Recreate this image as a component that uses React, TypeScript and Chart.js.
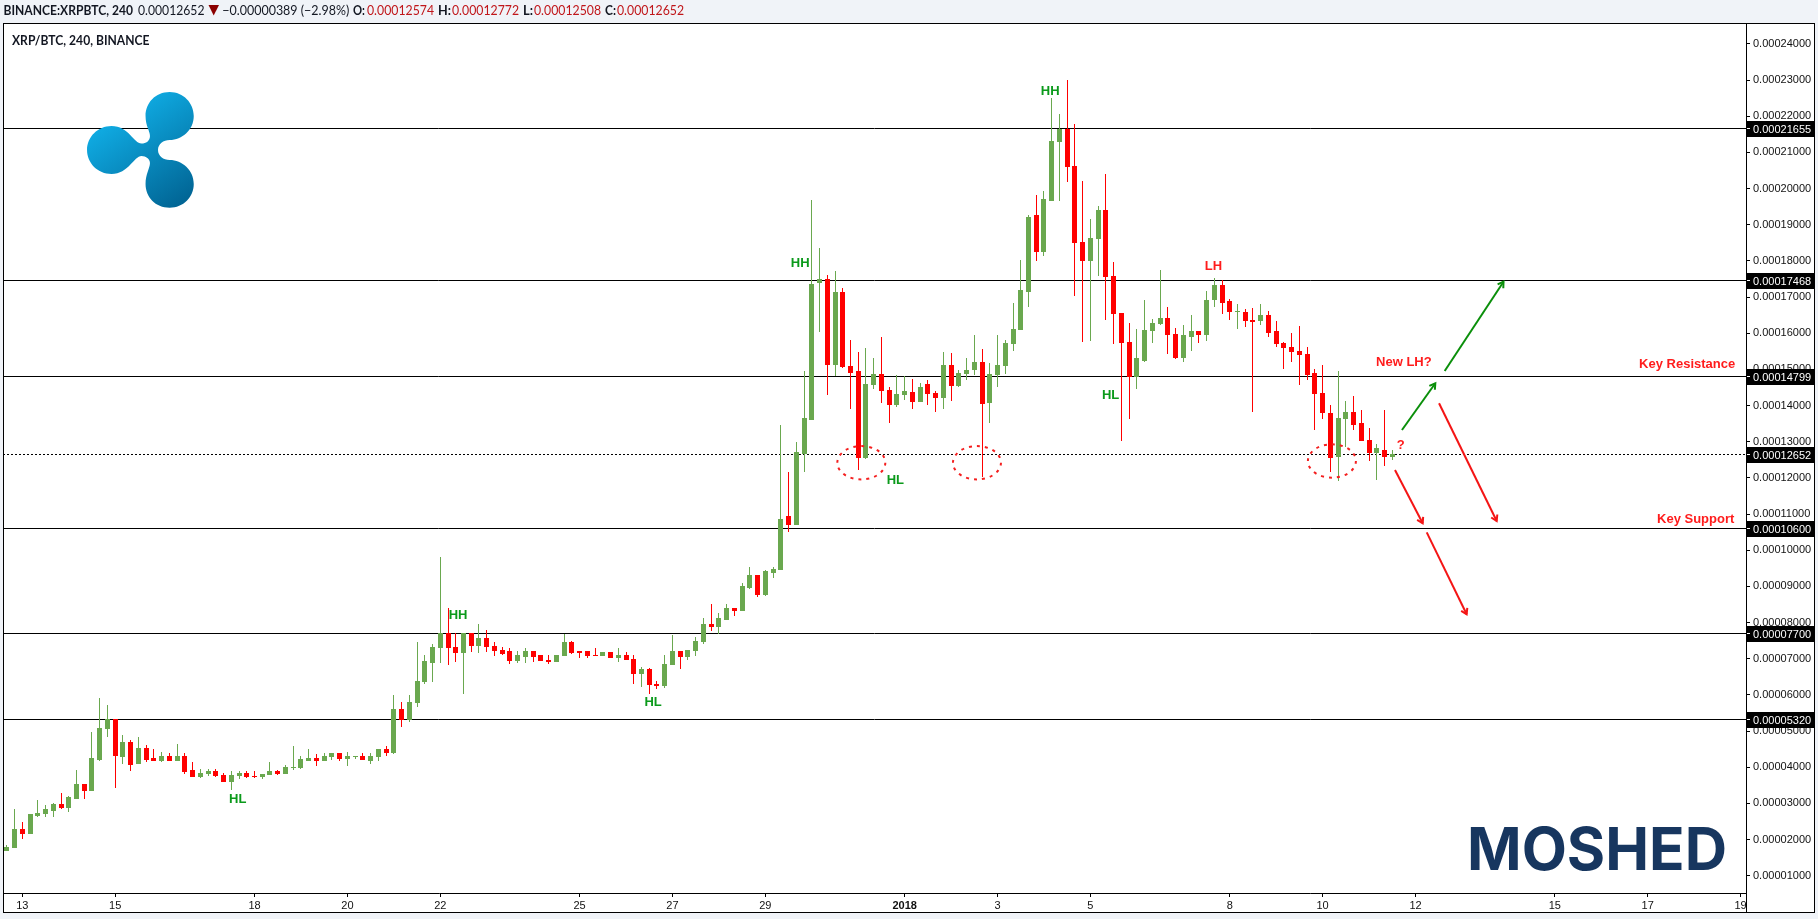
import React, { useEffect, useRef } from "react";
import { Chart, registerables } from "chart.js";

Chart.register(...registerables);

// Prices are read in units of 0.00001 BTC.
const UNIT = 1e-5;

const opens = [
  1.69,1.78,2.29,2.16,2.65,2.72,2.80,2.98,2.88,3.13,3.51,3.35,4.20,5.06,5.32,4.29,4.67,4.10,4.53,4.23,
  4.17,4.31,4.17,4.31,3.90,3.73,3.80,3.87,3.78,3.59,3.76,3.84,3.75,3.73,3.78,3.87,3.81,3.99,3.98,4.17,
  4.25,4.17,4.28,4.39,4.23,4.28,4.31,4.17,4.28,4.48,4.39,5.61,5.30,5.78,6.36,6.88,7.30,7.70,7.32,7.16,
  7.70,7.35,7.57,7.35,7.24,7.19,6.94,7.05,7.19,7.08,6.96,6.91,7.08,7.44,7.21,7.19,7.10,7.08,7.16,7.02,
  7.10,6.99,6.58,6.69,6.30,6.25,6.83,7.21,7.05,7.21,7.46,7.96,7.88,8.07,8.40,8.32,8.96,9.29,8.76,9.37,
  9.45,10.92,10.70,12.66,13.60,17.39,17.49,15.12,17.14,15.09,14.93,12.55,14.57,14.87,14.43,14.01,14.29,14.37,14.10,14.57,
  14.34,14.20,15.12,14.54,14.87,14.98,15.20,14.07,14.84,15.09,15.70,16.09,17.14,19.26,18.26,19.67,21.28,21.64,20.62,18.51,
  17.99,18.60,19.40,17.57,16.55,15.75,14.80,15.22,16.05,16.27,16.41,15.97,15.31,15.91,16.05,15.94,16.91,17.32,16.88,16.59,
  16.58,16.36,16.33,16.49,16.05,15.72,15.61,15.50,15.42,14.90,14.34,13.79,12.57,13.63,13.82,13.51,13.04,12.69,12.77,12.574,
];
const highs = [
  1.84,2.84,2.46,2.68,3.09,2.95,3.00,3.26,3.20,3.90,3.51,4.97,5.91,5.72,5.32,4.89,4.75,4.81,4.59,4.48,
  4.42,4.37,4.64,4.38,4.14,3.95,3.95,3.95,3.84,3.87,3.87,3.87,3.87,3.81,4.12,3.92,4.06,4.56,4.31,4.50,
  4.34,4.37,4.39,4.39,4.42,4.31,4.37,4.37,4.50,4.56,5.97,5.80,5.97,7.46,7.10,7.38,9.79,8.39,7.70,7.70,
  7.70,7.96,7.79,7.44,7.32,7.27,7.19,7.27,7.21,7.10,7.08,7.10,7.68,7.49,7.21,7.19,7.27,7.16,7.16,7.27,
  7.16,7.08,6.77,6.72,6.36,7.10,7.63,7.21,7.24,7.60,8.10,8.51,8.26,8.49,8.40,9.09,9.51,9.29,9.43,9.51,
  13.44,12.14,12.99,14.95,19.68,18.35,17.61,17.72,17.25,15.81,15.48,15.59,15.31,15.89,14.51,14.84,14.80,14.73,14.62,14.70,
  14.40,15.48,15.45,14.98,15.31,15.95,15.56,15.17,15.95,15.81,16.81,18.02,19.27,19.81,19.92,22.50,22.05,22.99,21.78,20.20,
  19.15,19.51,20.39,17.96,16.55,16.27,16.11,16.91,16.38,17.74,16.72,16.13,16.22,16.49,16.05,17.16,17.52,17.46,16.94,16.80,
  16.66,16.69,16.80,16.60,16.33,15.75,16.00,16.19,15.61,15.01,15.12,14.01,14.95,14.12,14.26,13.87,13.38,12.93,13.87,12.772,
];
const lows = [
  1.69,1.78,2.02,2.16,2.62,2.62,2.62,2.84,2.76,3.13,3.12,3.35,4.17,4.84,3.42,4.09,3.90,4.10,4.14,4.17,
  4.14,4.17,4.17,3.81,3.74,3.70,3.76,3.73,3.59,3.37,3.67,3.70,3.70,3.67,3.78,3.78,3.81,3.92,3.95,4.17,
  4.03,4.17,4.20,4.17,4.03,4.23,4.20,4.09,4.17,4.31,4.37,5.11,5.25,5.66,6.30,6.36,6.88,6.83,6.91,6.02,
  7.19,7.16,7.19,7.08,7.10,6.85,6.88,6.88,6.91,6.94,6.85,6.91,7.08,7.13,7.02,7.02,7.08,7.08,7.02,6.91,
  6.96,6.30,6.22,6.02,6.16,6.19,6.83,6.72,6.96,7.08,7.41,7.77,7.68,8.07,8.18,8.32,8.93,8.71,8.73,9.23,
  9.45,10.50,10.70,12.16,13.60,16.03,14.29,14.82,15.04,13.90,12.22,12.52,14.45,14.07,13.52,13.96,14.15,13.90,14.10,14.01,
  13.82,13.90,14.12,14.51,14.70,14.84,12.02,13.52,14.51,14.87,15.51,16.09,16.72,18.01,18.13,19.67,19.65,20.17,17.02,15.75,
  15.78,17.57,16.38,15.69,13.01,13.62,14.45,15.20,15.72,16.22,15.42,15.28,15.20,15.50,15.72,15.80,16.72,16.52,16.38,16.11,
  16.16,13.81,16.22,15.91,15.61,15.00,15.20,14.56,14.70,13.32,13.63,12.16,11.91,12.85,13.32,13.02,12.46,11.94,12.32,12.508,
];
const closes = [
  1.79,2.29,2.16,2.68,2.73,2.82,2.98,2.87,3.15,3.51,3.35,4.25,5.06,5.31,4.32,4.67,4.06,4.53,4.20,4.17,
  4.31,4.17,4.31,3.87,3.74,3.84,3.87,3.76,3.59,3.78,3.84,3.73,3.73,3.81,3.87,3.81,4.00,4.00,4.20,4.25,
  4.17,4.31,4.39,4.23,4.31,4.31,4.20,4.31,4.48,4.39,5.61,5.30,5.80,6.38,6.91,7.32,7.71,7.30,7.16,7.70,
  7.35,7.57,7.32,7.21,7.13,6.94,7.08,7.19,7.05,6.94,6.91,7.10,7.44,7.16,7.16,7.08,7.08,7.16,7.02,7.10,
  6.96,6.58,6.69,6.27,6.25,6.85,7.21,7.05,7.24,7.49,7.96,7.88,8.10,8.40,8.32,9.01,9.29,8.76,9.40,9.48,
  10.84,10.70,12.69,13.63,17.36,17.49,15.12,17.14,15.06,14.90,12.55,14.59,14.87,14.40,14.01,14.32,14.40,14.10,14.51,14.32,
  14.20,15.12,14.54,14.90,14.98,15.20,14.04,14.87,15.12,15.73,16.11,17.17,19.21,18.26,19.70,21.31,21.64,20.59,18.49,17.99,
  18.62,19.40,17.55,16.52,15.72,14.80,15.31,16.08,16.27,16.41,15.94,15.31,15.94,16.05,15.94,16.91,17.32,16.85,16.58,16.60,
  16.33,16.30,16.49,16.02,15.69,15.58,15.47,15.39,14.86,14.32,13.79,12.55,13.65,13.82,13.46,13.02,12.69,12.80,12.574,12.652,
];

const xTickBars = [2, 14, 32, 44, 56, 74, 86, 98, 116, 128, 140, 158, 170, 182, 200, 212, 224];
const xTickLabels = ["13", "15", "18", "20", "22", "25", "27", "29", "2018", "3", "5", "8", "10", "12", "15", "17", "19"];
const yTickValues = [24, 23, 22, 21, 20, 19, 18, 17, 16, 15, 14, 13, 12, 11, 10, 9, 8, 7, 6, 5, 4, 3, 2, 1];
const solidLevels = [21.655, 17.468, 14.799, 10.6, 7.7, 5.32];
const lastPrice = 12.652;
const priceLabels = [21.655, 17.468, 14.799, 12.652, 10.6, 7.7, 5.32];

const X_MIN = -0.495;
const X_MAX = 224.7;
const Y_MIN = 0.522;
const Y_MAX = 24.58;

const greenArrows = [
  [[180.25, 13.325], [184.56, 14.617]],
  [[185.77, 14.957], [193.37, 17.426]],
];
const redArrows = [
  [[185.04, 14.064], [192.49, 10.809]],
  [[179.35, 12.219], [182.93, 10.745]],
  [[183.45, 10.496], [188.61, 8.229]],
];
const circleCentres = [[110.4, 12.42], [125.34, 12.42], [171.2, 12.468]];

const GREEN_TEXT = "#0b9a1b";
const RED_TEXT = "#ff1c1c";
const chartTexts: [string, number, number, string][] = [
  ["HH", 58.3, 8.19, GREEN_TEXT],
  ["HL", 29.83, 3.12, GREEN_TEXT],
  ["HL", 83.5, 5.78, GREEN_TEXT],
  ["HH", 102.5, 17.94, GREEN_TEXT],
  ["HL", 114.8, 11.94, GREEN_TEXT],
  ["HH", 134.8, 22.69, GREEN_TEXT],
  ["HL", 142.6, 14.29, GREEN_TEXT],
  ["LH", 155.9, 17.86, RED_TEXT],
  ["New LH?", 180.5, 15.2, RED_TEXT],
  ["?", 180.1, 12.91, RED_TEXT],
  ["Key Resistance", 217.1, 15.13, RED_TEXT],
  ["Key Support", 218.2, 10.86, RED_TEXT],
];

const CANDLE_UP = "#6aa84f";
const CANDLE_DOWN = "#ff0000";
const barIndex = closes.map((_, i) => i);
const candleColours = barIndex.map((i) => (closes[i] >= opens[i] ? CANDLE_UP : CANDLE_DOWN));

const flat = "Liberation Sans, Arial, sans-serif";

function sharpenBars(chart: any) {
  chart.data.datasets.forEach((ds: any, di: number) => {
    const meta = chart.getDatasetMeta(di);
    if (ds.type === "bar") {
      meta.data.forEach((el: any) => {
        const top = Math.floor(Math.min(el.y, el.base));
        const bot = Math.max(top + 1, Math.round(Math.max(el.y, el.base)));
        el.x = Math.floor(el.x) + 0.5;
        el.y = top;
        el.base = bot;
      });
    } else if (ds.crisp) {
      meta.data.forEach((el: any) => {
        el.y = Math.floor(el.y) + 0.5;
      });
    }
  });
}

const framePlugin = {
  id: "frame",
  beforeDraw(chart: any) {
    const c = chart.ctx;
    c.save();
    c.fillStyle = "#f0f3f8";
    c.fillRect(0, 0, chart.width, chart.height);
    c.fillStyle = "#ffffff";
    c.fillRect(3.5, 23.5, 1811, 889);
    c.restore();
  },
  beforeDatasetsDraw(chart: any) {
    sharpenBars(chart);
  },
  afterDatasetsDraw(chart: any) {
    const c = chart.ctx;
    const sx = chart.scales.x;
    const sy = chart.scales.y;
    const px = (k: number) => sx.getPixelForValue(k);
    const py = (v: number) => sy.getPixelForValue(v * UNIT);
    c.save();

    // arrow heads
    const heads = (list: number[][][], col: string) => {
      list.forEach(([a, b]) => {
        const x1 = px(a[0]), y1 = py(a[1]), x2 = px(b[0]), y2 = py(b[1]);
        const ang = Math.atan2(y2 - y1, x2 - x1);
        c.strokeStyle = col;
        c.lineWidth = 2;
        c.beginPath();
        c.moveTo(x2 - 6.5 * Math.cos(ang - 0.55), y2 - 6.5 * Math.sin(ang - 0.55));
        c.lineTo(x2, y2);
        c.lineTo(x2 - 6.5 * Math.cos(ang + 0.55), y2 - 6.5 * Math.sin(ang + 0.55));
        c.stroke();
      });
    };
    heads(greenArrows, "#0a8f0a");
    heads(redArrows, "#f41515");

    // dashed circles
    c.strokeStyle = "#f41f1f";
    c.lineWidth = 2;
    c.setLineDash([3, 5]);
    circleCentres.forEach(([k, v]) => {
      c.beginPath();
      c.ellipse(px(k), py(v), 24, 16.7, 0, 0, Math.PI * 2);
      c.stroke();
    });
    c.setLineDash([]);

    // annotations
    c.textAlign = "center";
    c.textBaseline = "middle";
    c.font = `bold 13px ${flat}`;
    chartTexts.forEach(([t, k, v, col]) => {
      c.fillStyle = col;
      c.fillText(t, px(k), py(v));
    });

    // Ripple logo
    c.save();
    c.transform(1.339, 0, 0, 1, 0, 0);
    const g = c.createLinearGradient(70, 125, 145, 205);
    g.addColorStop(0, "#10aee6");
    g.addColorStop(1, "#00608f");
    c.fillStyle = g;
    c.beginPath();
    c.moveTo(126.7, 92);
    c.bezierCurveTo(137, 92, 144.7, 103, 144.7, 116);
    c.bezierCurveTo(144.7, 130, 136, 140, 126.7, 140);
    c.bezierCurveTo(122, 140, 118, 144, 118, 150);
    c.bezierCurveTo(118, 156, 122, 160, 126.7, 160);
    c.bezierCurveTo(136, 160, 144.7, 170, 144.7, 184);
    c.bezierCurveTo(144.7, 197, 137, 207.7, 126.7, 207.7);
    c.bezierCurveTo(116, 207.7, 108.7, 197, 108.7, 184);
    c.bezierCurveTo(108.7, 174, 112, 168, 112, 163);
    c.bezierCurveTo(112, 159, 109, 156, 105.7, 156);
    c.bezierCurveTo(100, 156, 96, 174, 83.3, 174);
    c.bezierCurveTo(73, 174, 65, 163, 65, 150);
    c.bezierCurveTo(65, 137, 73, 126, 83.3, 126);
    c.bezierCurveTo(96, 126, 100, 143.5, 105.7, 143.5);
    c.bezierCurveTo(109, 143.5, 112, 141, 112, 136);
    c.bezierCurveTo(112, 131, 108.7, 126, 108.7, 116);
    c.bezierCurveTo(108.7, 103, 116, 92, 126.7, 92);
    c.closePath();
    c.fill();
    c.restore();

    // Watermark
    c.fillStyle = "#17365f";
    c.textAlign = "left";
    c.textBaseline = "alphabetic";
    c.font = "700 59px Inter, sans-serif";
    c.fillText("MOSHED", 1467, 870, 260);
    c.restore();
  },
  afterDraw(chart: any) {
    const c = chart.ctx;
    const sy = chart.scales.y;
    c.save();

    // clip the last date label at the price axis
    c.fillStyle = "#ffffff";
    c.fillRect(1746, 894, 68, 18);

    // price tags
    priceLabels.forEach((v) => {
      const y = Math.floor(sy.getPixelForValue(v * UNIT)) + 0.5;
      c.fillStyle = "#000000";
      c.fillRect(1747, y - 7.5, 67, 16);
      c.strokeStyle = "#ffffff";
      c.lineWidth = 1;
      c.beginPath();
      c.moveTo(1747, y);
      c.lineTo(1750, y);
      c.stroke();
      c.fillStyle = "#ffffff";
      c.font = `11px ${flat}`;
      c.textAlign = "left";
      c.textBaseline = "middle";
      c.fillText((v * UNIT).toFixed(8), 1753, y + 1);
    });

    // frame
    c.strokeStyle = "#000000";
    c.lineWidth = 1;
    c.strokeRect(3.5, 23.5, 1811, 889);
    c.beginPath();
    c.moveTo(1746.5, 23.5);
    c.lineTo(1746.5, 912.5);
    c.moveTo(3.5, 893.5);
    c.lineTo(1746.5, 893.5);
    c.stroke();

    // header
    const seg = (t: string, x: number, w: number, bold: boolean, col: string, y = 14.5) => {
      c.font = `${bold ? "bold " : ""}14px Lato, sans-serif`;
      c.fillStyle = col;
      c.fillText(t, x, y, w);
    };
    c.textAlign = "left";
    c.textBaseline = "alphabetic";
    const red = "#c0161a";
    seg("BINANCE:XRPBTC, 240", 3.5, 129.5, true, "#131722");
    seg("0.00012652", 138, 66.5, false, "#131722");
    c.fillStyle = "#8b0000";
    c.beginPath();
    c.moveTo(208.5, 5);
    c.lineTo(219, 5);
    c.lineTo(213.7, 15.5);
    c.closePath();
    c.fill();
    seg("\u22120.00000389 (\u22122.98%)", 222.3, 127, false, "#131722");
    seg("O:", 353, 12, true, "#131722");
    seg("0.00012574", 367, 67, false, red);
    seg("H:", 438, 13, true, "#131722");
    seg("0.00012772", 452, 67, false, red);
    seg("L:", 523, 10, true, "#131722");
    seg("0.00012508", 534, 67, false, red);
    seg("C:", 605, 11, true, "#131722");
    seg("0.00012652", 617, 67, false, red);
    seg("XRP/BTC, 240, BINANCE", 12, 137.5, true, "#131722", 45);
    c.restore();
  },
};

export default function App() {
  const ref = useRef<HTMLCanvasElement | null>(null);
  useEffect(() => {
    document.body.style.margin = "0";
    document.body.style.background = "#f0f3f8";
    const levelSets = solidLevels.map((lv) => ({
      type: "line",
      crisp: true,
      order: 5,
      data: [{ x: X_MIN, y: lv * UNIT }, { x: X_MAX, y: lv * UNIT }],
      borderColor: "#000000",
      borderWidth: 1,
      pointRadius: 0,
      fill: false,
    }));
    const lastSet = {
      type: "line",
      crisp: true,
      order: 5,
      data: [{ x: X_MIN, y: lastPrice * UNIT }, { x: X_MAX, y: lastPrice * UNIT }],
      borderColor: "#000000",
      borderWidth: 1,
      borderDash: [2, 2],
      pointRadius: 0,
      fill: false,
    };
    const arrowSet = (pts: number[][], col: string) => ({
      type: "line",
      order: 0,
      data: pts.map(([k, v]) => ({ x: k, y: v * UNIT })),
      borderColor: col,
      borderWidth: 2,
      pointRadius: 0,
      fill: false,
    });
    const chart = new Chart(ref.current as HTMLCanvasElement, {
      type: "bar",
      data: {
        datasets: [
          ...levelSets,
          lastSet,
          {
            type: "bar",
            order: 2,
            grouped: false,
            barThickness: 1,
            inflateAmount: 0,
            borderWidth: 0,
            backgroundColor: candleColours,
            data: barIndex.map((i) => ({ x: i, y: [lows[i] * UNIT, highs[i] * UNIT] })),
          },
          {
            type: "bar",
            order: 1,
            grouped: false,
            barThickness: 5,
            inflateAmount: 0,
            borderWidth: 0,
            backgroundColor: candleColours,
            data: barIndex.map((i) => ({ x: i, y: [opens[i] * UNIT, closes[i] * UNIT] })),
          },
          ...greenArrows.map((a) => arrowSet(a, "#0a8f0a")),
          ...redArrows.map((a) => arrowSet(a, "#f41515")),
        ] as any,
      },
      options: {
        responsive: false,
        animation: false,
        devicePixelRatio: 1,
        events: [],
        layout: { padding: { left: 3, top: 23, right: 4, bottom: 7 } },
        plugins: { legend: { display: false }, tooltip: { enabled: false }, title: { display: false } },
        scales: {
          x: {
            type: "linear",
            offset: false,
            min: X_MIN,
            max: X_MAX,
            afterBuildTicks: (s: any) => {
              s.ticks = xTickBars.map((value) => ({ value }));
            },
            afterFit: (s: any) => {
              s.height = 19;
            },
            border: { display: false },
            grid: { offset: false, drawOnChartArea: false, tickLength: 4, tickColor: "#000000" },
            ticks: {
              autoSkip: false,
              maxRotation: 0,
              padding: 2,
              color: "#111111",
              font: (ctx: any) => ({
                family: flat,
                size: 11,
                weight: ctx.tick && ctx.tick.value === 116 ? "bold" : "normal",
              }),
              callback: (v: any) => {
                const i = xTickBars.indexOf(Number(v));
                return i >= 0 ? xTickLabels[i] : "";
              },
            },
          },
          y: {
            type: "linear",
            position: "right",
            min: Y_MIN * UNIT,
            max: Y_MAX * UNIT,
            afterBuildTicks: (s: any) => {
              s.ticks = yTickValues.map((v) => ({ value: v * UNIT }));
            },
            afterFit: (s: any) => {
              s.width = 68;
            },
            border: { display: false },
            grid: { drawOnChartArea: false, tickLength: 4, tickColor: "#000000" },
            ticks: {
              autoSkip: false,
              padding: 3,
              color: "#111111",
              font: { family: flat, size: 11 },
              callback: (v: any) => Number(v).toFixed(8),
            },
          },
        },
      } as any,
      plugins: [framePlugin],
    } as any);
    return () => chart.destroy();
  }, []);
  return <canvas ref={ref} width={1818} height={919} style={{ display: "block", width: 1818, height: 919 }} />;
}
